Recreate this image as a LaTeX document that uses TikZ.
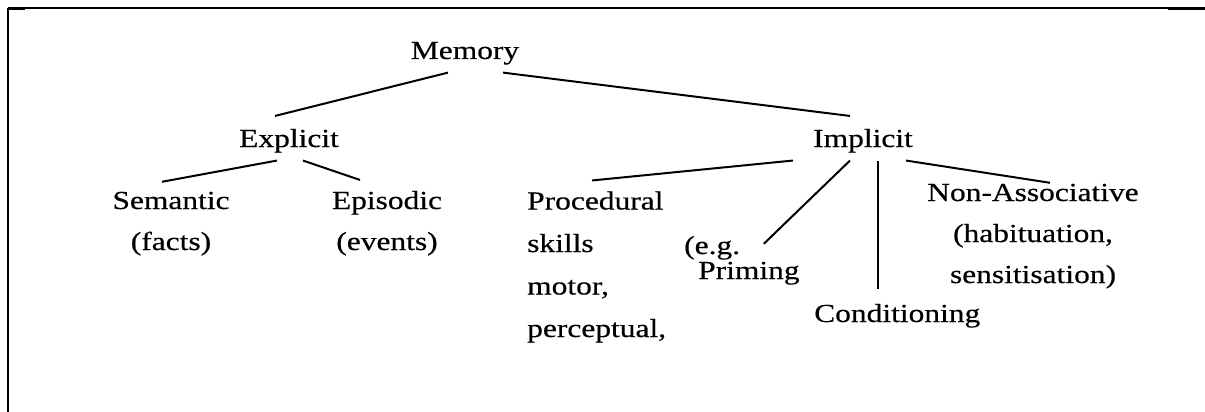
\documentclass[tikz,border=0pt]{standalone}
\usepackage{fontspec}
\setmainfont{Liberation Serif}
\newfontfamily\lblfont[FakeBold=0.4]{Liberation Serif}
\begin{document}
\begin{tikzpicture}[x=1pt,y=-1pt,line width=2pt]
  \tikzset{lbl/.style={font=\lblfont\fontsize{26pt}{41pt}\selectfont,inner sep=0pt,xscale=1.21,anchor=base}}
  \useasboundingbox (0,0) rectangle (1205,412);
  %moldura
  \draw (8,8) -- (1205,8);
  \draw (8,8) -- (8,412);
  \draw[line width=3pt] (8,9) -- (25,9);
  \draw[line width=3pt] (1168,9) -- (1205,9);

  %niveis (base = ultima linha)
  \node[lbl] (mem) at (465,59) {Memory};
  \node[lbl] (expl) at (289,147) {Explicit};
  \node[lbl] (impl) at (863,147) {Implicit};
  \node[lbl,align=center] (sem) at (171,250) {Semantic\\(facts)};
  \node[lbl,align=center] (epi) at (387,250) {Episodic\\(events)};
  \node[lbl,align=left,anchor=base west,font=\lblfont\fontsize{26pt}{42.5pt}\selectfont] (proc) at (526,337) {Procedural\\skills\\motor,\\perceptual,};
  \node[lbl,anchor=base west] (eg) at (683,254) {(e.g.};
  \node[lbl,anchor=base west] (prim) at (697,279) {Priming};
  \node[lbl,anchor=base west] (cond) at (813,322) {Conditioning};
  \node[lbl,align=center] (na) at (1033,283) {Non-Associative\\(habituation,\\sensitisation)};

  %ligacoes
  \draw ([xshift=-17pt,yshift=-7pt]mem.south) -- ([xshift=-14pt,yshift=12pt]expl.north);
  \draw ([xshift=38pt,yshift=-7pt]mem.south) -- ([xshift=-13pt,yshift=12pt]impl.north);
  \draw ([xshift=-12pt,yshift=-7pt]expl.south) -- ([xshift=-9pt,yshift=9pt]sem.north);
  \draw ([xshift=14pt,yshift=-7pt]expl.south) -- ([xshift=-27pt,yshift=10pt]epi.north);
  \draw ([xshift=-70pt,yshift=-7pt]impl.south) -- ([xshift=66pt,yshift=10pt]proc.north west);
  \draw ([xshift=-13pt,yshift=-7pt]impl.south) -- ([xshift=-37pt,yshift=17pt]prim.north east);
  \draw ([xshift=15pt,yshift=-7pt]impl.south) -- ([xshift=15pt,yshift=14pt]impl.south |- cond.north);
  \draw ([xshift=43pt,yshift=-7pt]impl.south) -- ([xshift=17pt]na.north);
\end{tikzpicture}
\end{document}
